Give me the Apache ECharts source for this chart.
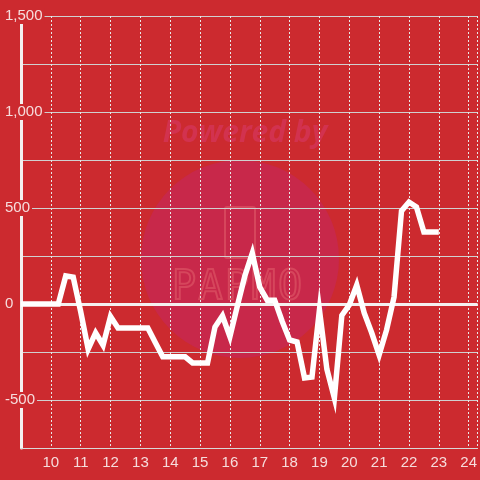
<!DOCTYPE html>
<html>
<head>
<meta charset="utf-8">
<script src="https://cdn.jsdelivr.net/npm/echarts@6/dist/echarts.min.js"></script>
<style>html,body{margin:0;padding:0;background:#cc2a2f;}#c{width:480px;height:480px;}</style>
</head>
<body>
<div id="c"></div>
<script>
var xValues = [9,9.25,9.5,9.75,10,10.25,10.5,10.75,11,11.25,11.5,11.75,12,12.25,12.5,12.75,13,13.25,13.5,13.75,14,14.25,14.5,14.75,15,15.25,15.5,15.75,16,16.25,16.5,16.75,17,17.25,17.5,17.75,18,18.25,18.5,18.75,19,19.25,19.5,19.75,20,20.25,20.5,20.75,21,21.25,21.5,21.75,22,22.25,22.5,22.75,23];
var yValues = [0,0,0,0,0,0,146,140,-40,-235,-150,-215,-65,-125,-125,-125,-125,-125,-200,-275,-275,-275,-275,-307,-307,-307,-120,-62,-170,-10,146,265,88,20,20,-90,-187,-198,-385,-380,-31,-340,-490,-60,-5,99,-47,-150,-265,-135,36,485,531,505,375,375,375];
var yLabelValues = [-500,0,500,1000,1500];
var xLabelValues = [10,11,12,13,14,15,16,17,18,19,20,21,22,23,24];
var logoLetters = ['P','A','P','M','O'];

var labelColor = '#f6dcdc';
var bg = '#cc2a2f';
var chart = echarts.init(document.getElementById('c'));
var data = xValues.map(function(x,i){return [x, yValues[i]];});
var graphics = [
  {type:'circle', z:-10, shape:{cx:240, cy:259, r:99}, style:{fill:'#c8284a'}},
  {type:'text', z:-10, style:{x:245, y:133, text:'Powered by', align:'center', verticalAlign:'middle', font:'italic bold 30px "Open Sans", sans-serif', fill:'#d2324f'}},
  {type:'rect', z:-10, shape:{x:225, y:207, width:30, height:51, r:2}, style:{fill:'none', stroke:'#d6465c', lineWidth:2}}
];
logoLetters.forEach(function(ch, i){
  graphics.push({type:'text', z:-10, style:{x:184 + i*26.5, y:289, text:ch, align:'center', verticalAlign:'middle', font:'40px "DejaVu Sans Mono", monospace', fill:'none', stroke:'#d6465c', lineWidth:2}});
});
chart.setOption({
  backgroundColor: bg,
  animation: false,
  graphic: graphics,
  grid: {left: 21, right: 0, top: 16, bottom: 32, containLabel: false},
  xAxis: {
    type: 'value', min: 9, max: 24.3, interval: 1,
    axisLine: {show: true, onZero: false, lineStyle: {color: '#d8d8d8', width: 1}},
    axisTick: {show: false},
    splitLine: {show: true, lineStyle: {color: '#e8e8e8', type: [2,2], width: 1}},
    axisLabel: {
      color: labelColor, fontSize: 15, margin: 7, fontFamily: '"Liberation Sans", Arial, sans-serif',
      showMinLabel: false, showMaxLabel: false,
      formatter: function(v){ return xLabelValues.indexOf(v) >= 0 ? String(v) : ''; }
    }
  },
  yAxis: {
    type: 'value', min: -750, max: 1500, interval: 250,
    axisLine: {show: true, lineStyle: {color: '#f4f0f0', width: 3}},
    axisTick: {show: false},
    splitLine: {show: true, lineStyle: {color: '#d0d0d0', width: 1}},
    axisLabel: {
      color: labelColor, fontSize: 15, margin: 16, align: 'left',
      fontFamily: '"Liberation Sans", Arial, sans-serif',
      backgroundColor: bg, padding: [1, 2, 0, 0],
      formatter: function(v){ return yLabelValues.indexOf(v) >= 0 ? v.toLocaleString('en-US') : ''; }
    }
  },
  series: [{
    type: 'line', data: data, showSymbol: false, symbol: 'none',
    lineStyle: {color: '#ffffff', width: 5.5, join: 'miter'},
    z: 5,
    markLine: {
      silent: true, symbol: ['none','none'], label: {show: false},
      lineStyle: {color: '#f4f0f0', width: 3, type: 'solid'},
      data: [{yAxis: 0}]
    }
  }]
});
</script>
</body>
</html>
